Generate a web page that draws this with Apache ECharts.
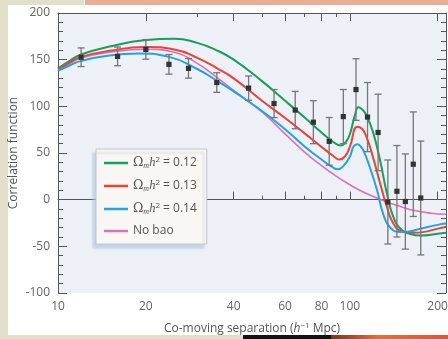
<!DOCTYPE html>
<html>
<head>
<meta charset="utf-8">
<script src="https://cdn.jsdelivr.net/npm/echarts@6/dist/echarts.min.js"></script>
<style>
  html, body { margin: 0; padding: 0; background: #fff; }
  #chart { width: 448px; height: 339px; }
</style>
</head>
<body>
<div id="chart"></div>
<script>
// measured points (separation, xi, error)
const sepX = [12, 16, 20, 24, 28, 35, 45, 55, 65, 75, 85, 95, 105, 115, 125, 135, 145, 155, 165, 175];
const xiObs = [152.6, 153.5, 161, 145, 140.7, 125.5, 119.5, 103, 96, 83, 62.5, 89, 118, 88.5, 72, -2.5, 9, -2, 38, 1.8];
const xiErr = [10, 10, 10.5, 10.5, 10.5, 10.5, 13, 15, 20, 23, 25.5, 29, 33, 37, 41, 45, 49, 51, 56, 61];

// model curves
const greenX = [10, 11, 12, 15, 20, 25, 30, 35, 40, 50, 60, 70, 80, 88, 93, 97, 100, 104, 107, 110, 114, 120, 127, 134, 141, 150, 160, 175, 200, 214];
const greenY = [140.5, 149, 155.5, 164, 171, 172.5, 168, 160, 150, 127, 106, 88, 72, 61.5, 58, 62, 70, 90, 99, 97, 90.5, 72.6, 42, 6.5, -18.5, -32, -36.5, -38.5, -36.5, -35.5];
const redX = [10, 11, 12, 15, 20, 25, 30, 35, 40, 50, 60, 70, 80, 88, 92, 96, 100, 106, 110, 114, 120, 127, 134, 141, 150, 165, 180, 200, 214];
const redY = [139.5, 147, 153, 159.5, 163.5, 161, 152, 141, 130, 106, 87.5, 71, 56.5, 46.5, 43, 46, 56.5, 78, 76, 67.2, 45.8, 17.3, -7.8, -25.6, -33.5, -35.5, -34.5, -31, -29];
const blueX = [10, 11, 12, 15, 19, 24, 30, 35, 40, 50, 60, 70, 80, 88, 91, 95, 100, 103, 106, 109, 112, 117, 124, 130, 137, 148, 160, 175, 200, 214];
const blueY = [138, 144, 148.7, 154.5, 156.5, 153, 140, 127.5, 116, 95, 75.5, 57, 43, 34, 32.5, 36, 46, 57, 59.5, 57, 51, 35, 10, -14.9, -29.3, -34.6, -34, -31, -27, -25.6];
const pinkX = [10, 11, 12, 15, 20, 25, 30, 35, 40, 50, 60, 70, 80, 90, 100, 114, 134, 150, 165, 190, 214];
const pinkY = [138.5, 146, 151.9, 158, 161.2, 158, 146, 131, 117, 94, 70.5, 51, 36.5, 25, 16, 6.5, -2.5, -7.5, -11.4, -14.5, -15.6];

const seriesNames = ['0.12', '0.13', '0.14', 'No bao'];
const majorTicks = [20, 40, 60, 80, 100, 200];
const minorTicks = [30, 50, 70, 90];
const tickLabels = [10, 20, 40, 60, 80, 100, 200];
const xMin = 10, xMax = 213.6;

const lg = (v) => Math.log10(v);
const pairs = (xs, ys) => xs.map((x, i) => [lg(x), ys[i]]);

const chart = echarts.init(document.getElementById('chart'));
const font = 'Open Sans';
const baseX = {
  type: 'value', min: lg(xMin), max: lg(xMax),
  splitLine: { show: false },
  axisLine: { show: true, lineStyle: { color: '#555', width: 1 } },
  axisLabel: { show: false },
};

const option = {
  animation: false,
  textStyle: { fontFamily: font },
  graphic: [
    { type: 'rect', shape: { x: 0, y: 0, width: 8, height: 339 }, style: { fill: '#e2dfcb' }, silent: true },
    { type: 'rect', shape: { x: 0, y: 0, width: 84, height: 5 }, style: { fill: '#e2dfcb' }, silent: true },
    { type: 'rect', shape: { x: 85, y: 0, width: 363, height: 5 }, style: { fill: '#e8ad94' }, silent: true },
    { type: 'rect', shape: { x: 0, y: 335, width: 243, height: 4 }, style: { fill: '#e2dfcb' }, silent: true },
    { type: 'rect', shape: { x: 243, y: 335, width: 88, height: 4 }, style: { fill: '#111' }, silent: true },
    {
      type: 'rect', shape: { x: 331, y: 335, width: 117, height: 4 }, silent: true,
      style: { fill: new echarts.graphic.LinearGradient(0, 0, 1, 0, [
        { offset: 0, color: '#6b3a20' }, { offset: 0.4, color: '#e0703a' }, { offset: 1, color: '#d8583a' }]) }
    }
  ],
  grid: {
    left: 58, right: 2, top: 13, bottom: 46,
    containLabel: false, outerBoundsMode: 'none',
    show: true, backgroundColor: '#edf0f7', borderWidth: 0
  },
  legend: {
    orient: 'vertical', left: 96, top: 149,
    icon: 'rect', itemWidth: 24, itemHeight: 2.5, itemGap: 9,
    padding: [7, 10, 7, 8],
    backgroundColor: '#f9f7f3', borderColor: '#c4c4c4', borderWidth: 1,
    shadowColor: 'rgba(170,195,225,0.6)', shadowBlur: 2, shadowOffsetX: -3, shadowOffsetY: 4,
    data: seriesNames,
    formatter: (name) => name === 'No bao' ? '{t|No bao}' : '{o|Ω}{s|m}{h|h}{p|2}{t| = ' + name + '}',
    textStyle: {
      color: '#555', fontSize: 12,
      rich: {
        t: { fontSize: 12, color: '#555', lineHeight: 14, fontFamily: font },
        o: { fontSize: 12.5, color: '#555', lineHeight: 14, fontFamily: 'DejaVu Serif' },
        h: { fontSize: 12.5, color: '#555', lineHeight: 14, fontStyle: 'italic', fontFamily: 'Liberation Serif' },
        s: { fontSize: 8, color: '#555', lineHeight: 8, verticalAlign: 'bottom', fontStyle: 'italic', fontFamily: 'Liberation Serif' },
        p: { fontSize: 8, color: '#555', lineHeight: 8, verticalAlign: 'top', fontFamily: font }
      }
    }
  },
  xAxis: [
    Object.assign({}, baseX, {
      position: 'bottom',
      axisTick: { show: true, inside: true, length: 8, customValues: majorTicks.map(lg), lineStyle: { color: '#555' } },
      axisLabel: {
        show: true, customValues: tickLabels.map(lg), color: '#666', fontSize: 12, margin: 8,
        formatter: (v) => String(Math.round(Math.pow(10, v)))
      },
      name: 'Co-moving separation ({i|h}{p|−1} Mpc)',
      nameLocation: 'middle', nameGap: 29, nameMoveOverlap: false,
      nameTextStyle: {
        color: '#555', fontSize: 12,
        rich: {
          i: { fontStyle: 'italic', fontSize: 12, color: '#555', lineHeight: 14, fontFamily: font },
          p: { fontSize: 8, color: '#555', lineHeight: 8, verticalAlign: 'top', fontFamily: font }
        }
      }
    }),
    Object.assign({}, baseX, {
      position: 'bottom', axisLine: { show: false },
      axisTick: { show: true, inside: true, length: 4, customValues: minorTicks.map(lg), lineStyle: { color: '#555' } }
    }),
    Object.assign({}, baseX, {
      position: 'top',
      axisTick: { show: true, inside: true, length: 8, customValues: majorTicks.map(lg), lineStyle: { color: '#555' } }
    }),
    Object.assign({}, baseX, {
      position: 'top', axisLine: { show: false },
      axisTick: { show: true, inside: true, length: 4, customValues: minorTicks.map(lg), lineStyle: { color: '#555' } }
    })
  ],
  yAxis: [
    {
      type: 'value', min: -100, max: 200, interval: 50, position: 'left',
      splitLine: { show: false },
      axisLine: { show: true, lineStyle: { color: '#555', width: 1 } },
      axisTick: { show: true, inside: true, length: 9, lineStyle: { color: '#555' } },
      minorTick: { show: true, splitNumber: 5, length: 5, lineStyle: { color: '#555' } },
      axisLabel: { color: '#666', fontSize: 12, margin: 8 },
      name: 'Correlation function', nameLocation: 'middle', nameGap: 38, nameMoveOverlap: false,
      nameTextStyle: { color: '#555', fontSize: 12 }
    },
    {
      type: 'value', min: -100, max: 200, interval: 50, position: 'right',
      splitLine: { show: false },
      axisLine: { show: true, lineStyle: { color: '#555', width: 1 } },
      axisTick: { show: true, inside: true, length: 9, lineStyle: { color: '#555' } },
      minorTick: { show: true, splitNumber: 5, length: 5, lineStyle: { color: '#555' } },
      axisLabel: { show: false }
    }
  ],
  series: [
    { name: '0.12', type: 'line', smooth: 0.5, showSymbol: false, data: pairs(greenX, greenY), color: '#14a05a', lineStyle: { width: 2 }, z: 3 },
    { name: '0.13', type: 'line', smooth: 0.5, showSymbol: false, data: pairs(redX, redY), color: '#ee4238', lineStyle: { width: 2 }, z: 3 },
    { name: '0.14', type: 'line', smooth: 0.5, showSymbol: false, data: pairs(blueX, blueY), color: '#1ea6e0', lineStyle: { width: 2 }, z: 3 },
    { name: 'No bao', type: 'line', smooth: 0.5, showSymbol: false, data: pairs(pinkX, pinkY), color: '#e070b4', lineStyle: { width: 1.6 }, z: 2 },
    {
      type: 'custom', z: 5,
      data: sepX.map((x, i) => [lg(x), xiObs[i], xiErr[i]]),
      renderItem: (params, api) => {
        const x = api.value(0), y = api.value(1), e = api.value(2);
        const top = api.coord([x, y + e]);
        const bot = api.coord([x, y - e]);
        const c = api.coord([x, y]);
        const st = { stroke: '#767676', lineWidth: 1.3 };
        return {
          type: 'group',
          children: [
            { type: 'line', shape: { x1: top[0], y1: top[1], x2: bot[0], y2: bot[1] }, style: st },
            { type: 'line', shape: { x1: top[0] - 3.5, y1: top[1], x2: top[0] + 3.5, y2: top[1] }, style: st },
            { type: 'line', shape: { x1: bot[0] - 3.5, y1: bot[1], x2: bot[0] + 3.5, y2: bot[1] }, style: st },
            { type: 'rect', shape: { x: c[0] - 2.6, y: c[1] - 2.6, width: 5.2, height: 5.2 }, style: { fill: '#333' } }
          ]
        };
      }
    }
  ]
};
chart.setOption(option);
</script>
</body>
</html>
